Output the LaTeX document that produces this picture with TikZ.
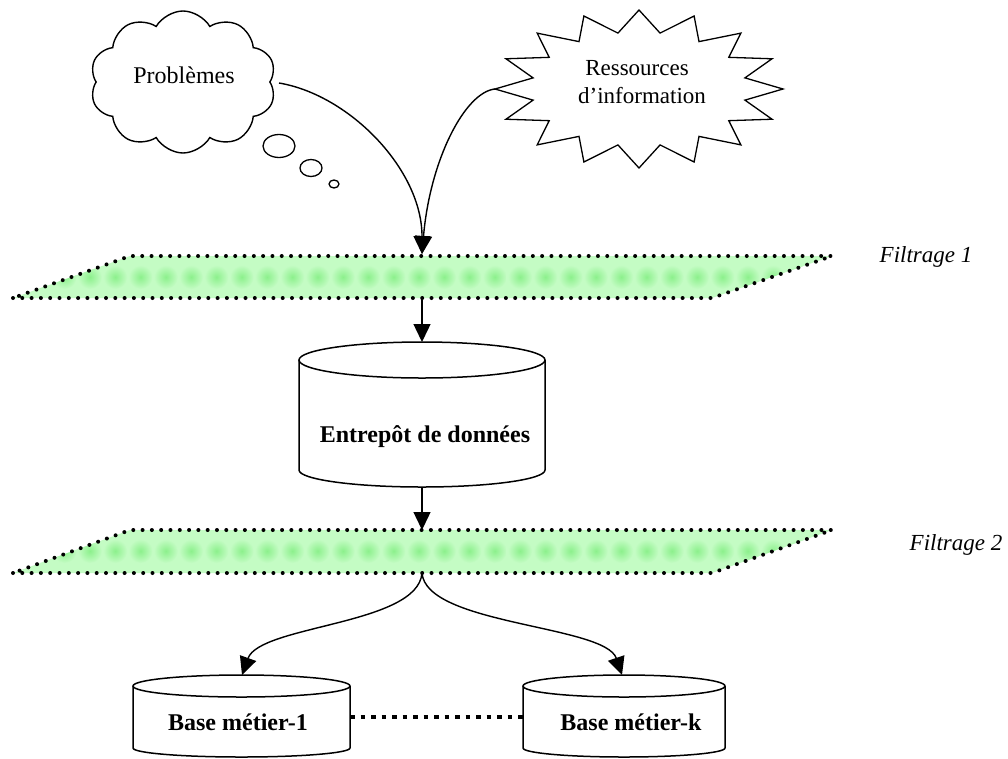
\documentclass[tikz,border=0pt]{standalone}
\usepackage{fontspec}
\setmainfont{Liberation Serif}
\usetikzlibrary{arrows.meta,shapes.symbols,shapes.geometric}
\definecolor{bandfill}{RGB}{196,252,196}
\definecolor{bandspot}{RGB}{140,240,140}
\tikzset{
  bandborder/.style={draw=black, line width=4pt, dash pattern=on 0pt off 9.3pt, line cap=round},
  conn/.style={line width=1.4pt, -{Triangle[length=18pt,width=17pt]}},
  cylline/.style={line width=1.5pt, fill=white},
  lbl/.style={anchor=base, inner sep=0pt, font=\fontsize{24}{28}\selectfont},
  blbl/.style={anchor=base, inner sep=0pt, font=\fontsize{24}{28}\selectfont\bfseries},
  ilbl/.style={anchor=base, inner sep=0pt, font=\fontsize{23}{28}\selectfont\itshape},
  bubble/.style={ellipse, draw, line width=1.3pt, inner sep=0pt},
  spot/.style={inner color=bandspot, outer color=bandfill},
  link/.style={line width=4.5pt, dash pattern=on 4.5pt off 6pt}
}
\begin{document}
\begin{tikzpicture}[x=1pt,y=-1pt]
\useasboundingbox (0,0) rectangle (1008,758);

% ---------- cloud "Problèmes"
\node[cloud, draw, cloud puffs=10, cloud puff arc=120, minimum width=186pt, minimum height=142pt,
      line width=1.4pt, fill=white] (cloud) at (183,82) {};
\node[lbl] (prob) at (184,83) {Problèmes};
\node[bubble, minimum width=32pt, minimum height=23pt] (bub1) at (279,146) {};
\node[bubble, minimum width=22pt, minimum height=17pt] (bub2) at (311,168) {};
\node[bubble, minimum width=10pt, minimum height=8pt] (bub3) at (334,184) {};
\coordinate (probE) at (279,83);

% ---------- starburst "Ressources d'information"
\draw[line width=1.3pt, fill=white] plot[variable=\k, samples at={0,...,31}]
  ({639+(126+18*cos(\k*180))*cos(90-\k*11.25)}, {89-(68+11*cos(\k*180))*sin(90-\k*11.25)}) -- cycle;
\node[lbl, font=\fontsize{23}{28}\selectfont] (res1) at (637,75) {Ressources};
\node[lbl, font=\fontsize{23}{28}\selectfont] (res2) at (642,103) {d’information};
\coordinate (resW) at (495,89);

% ---------- band 1
\coordinate (f1a) at (13,298);
\coordinate (f1b) at (712,298);
\coordinate (f1c) at (832,256);
\coordinate (f1d) at (130,256);
\coordinate (f1top) at (422,254);
\coordinate (f1bot) at (422,298);
\begin{scope}
  \clip (f1a) -- (f1b) -- (f1c) -- (f1d) -- cycle;
  \fill[bandfill] (0,250) rectangle (840,305);
  \foreach \i in {0,...,32} \shade[spot] ({14+25.3*\i},277) circle[radius=12pt];
\end{scope}
\draw[bandborder] (f1a) -- (f1b) -- (f1c) -- (f1d) -- cycle;
\node[ilbl] (fil1) at (926,262) {Filtrage 1};

% ---------- band 2
\coordinate (f2a) at (13,573);
\coordinate (f2b) at (712,573);
\coordinate (f2c) at (832,530);
\coordinate (f2d) at (130,530);
\coordinate (f2top) at (422,530);
\coordinate (f2bot) at (422,573);
\begin{scope}
  \clip (f2a) -- (f2b) -- (f2c) -- (f2d) -- cycle;
  \fill[bandfill] (0,525) rectangle (840,580);
  \foreach \i in {0,...,32} \shade[spot] ({14+25.3*\i},551) circle[radius=12pt];
\end{scope}
\draw[bandborder] (f2a) -- (f2b) -- (f2c) -- (f2d) -- cycle;
\node[ilbl] (fil2) at (956,550) {Filtrage 2};

% ---------- big cylinder
\draw[cylline] (299,360) -- (299,470) arc[start angle=180, end angle=360, x radius=123pt, y radius=17pt] -- (545,360);
\draw[cylline] (422,360) ellipse [x radius=123pt, y radius=18pt];
\coordinate (entT) at (422,342);
\coordinate (entB) at (422,487);
\node[blbl] (ent) at (425,442) {Entrepôt de données};

% ---------- small cylinders
\draw[cylline] (133,686) -- (133,748) arc[start angle=180, end angle=360, x radius=108.5pt, y radius=9pt] -- (350,686);
\draw[cylline] (241.5,686) ellipse [x radius=108.5pt, y radius=11pt];
\coordinate (b1T) at (242,675);
\coordinate (b1R) at (350,717);
\node[blbl] (b1) at (238,730) {Base métier-1};

\draw[cylline] (523,686) -- (523,748) arc[start angle=180, end angle=360, x radius=101pt, y radius=9pt] -- (725,686);
\draw[cylline] (624,686) ellipse [x radius=101pt, y radius=11pt];
\coordinate (bkT) at (622,675);
\coordinate (bkL) at (523,717);
\node[blbl] (bk) at (631,730) {Base métier-k};

% ---------- connectors
\draw[conn] (probE) .. controls (350,95) and (422,170) .. (f1top);
\draw[conn] (resW) .. controls (465,92) and (430,160) .. (f1top);
\draw[conn] (f1bot) -- (entT);
\draw[conn] (entB) -- (f2top);
\draw[conn] (f2bot) .. controls (418,625) and (260,625) .. (b1T);
\draw[conn] (f2bot) .. controls (426,625) and (605,625) .. (bkT);
\draw[link] (b1R) -- (bkL);
\end{tikzpicture}
\end{document}
